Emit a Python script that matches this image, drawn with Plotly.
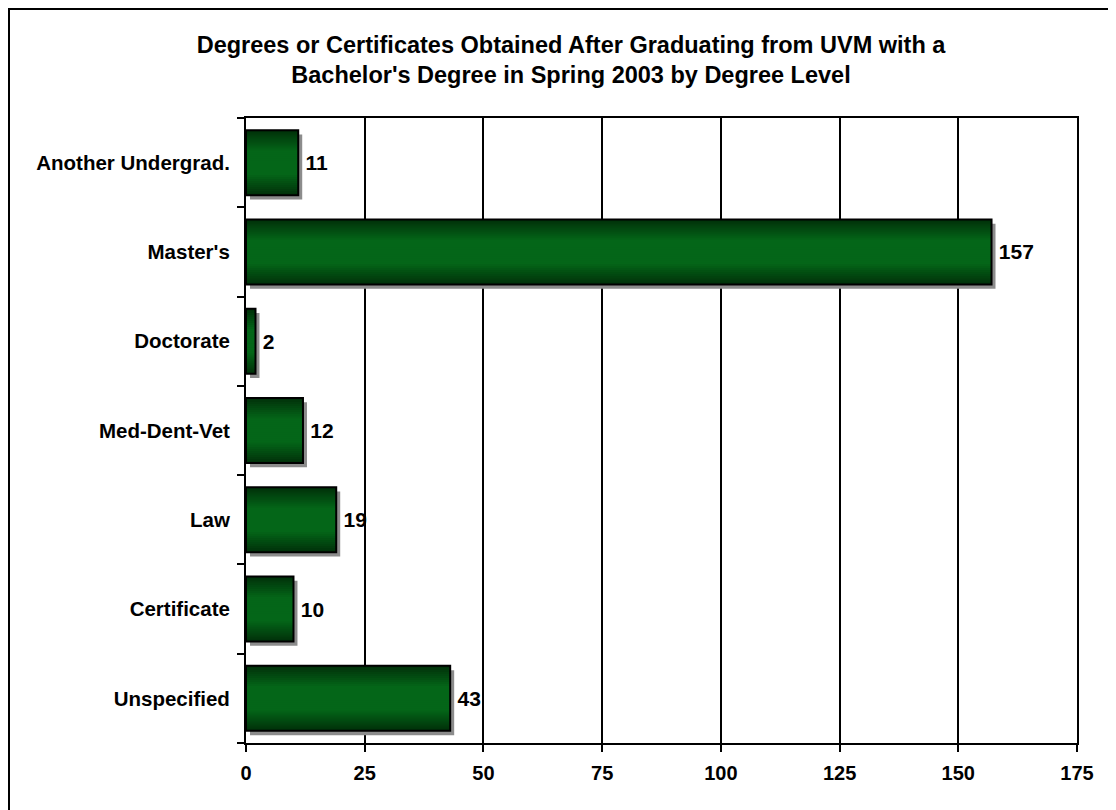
import plotly.graph_objects as go

categories = ["Another Undergrad.", "Master's", "Doctorate", "Med-Dent-Vet", "Law", "Certificate", "Unspecified"]
values = [11, 157, 2, 12, 19, 10, 43]
x_ticks = [0, 25, 50, 75, 100, 125, 150, 175]
title_text = "Degrees or Certificates Obtained After Graduating from UVM with a<br>Bachelor's Degree in Spring 2003 by Degree Level"

FONT = "Liberation Sans, Arial, sans-serif"
BAR_W = 0.728
edge = (1, 50, 10)
center = (4, 102, 24)

fig = go.Figure()

# shadow
fig.add_trace(go.Bar(
    y=categories, x=values, base=[0.84] * len(values), orientation="h",
    width=BAR_W, offset=-BAR_W / 2 - 0.048,
    marker=dict(color="#8c8c8c", line=dict(width=0)),
    hoverinfo="skip", showlegend=False))

# gradient layers
n_layers = 16
for i in range(n_layers):
    t = i / (n_layers - 1)
    w = BAR_W * (1 - t * 0.93)
    f = min(1.0, t * 1.5)
    col = tuple(int(round(edge[k] + (center[k] - edge[k]) * f)) for k in range(3))
    fig.add_trace(go.Bar(
        y=categories, x=values, orientation="h", width=w,
        marker=dict(color="rgb(%d,%d,%d)" % col, line=dict(width=0)),
        hoverinfo="skip", showlegend=False))

# outline
fig.add_trace(go.Bar(
    y=categories, x=values, orientation="h", width=BAR_W,
    marker=dict(color="rgba(0,0,0,0)", line=dict(color="black", width=2)),
    showlegend=False))

# labels
fig.add_trace(go.Bar(
    y=categories, x=values, base=[0.9] * len(values), orientation="h", width=BAR_W,
    marker=dict(color="rgba(0,0,0,0)", line=dict(width=0)),
    text=[str(v) for v in values], textposition="outside", cliponaxis=False,
    textfont=dict(family=FONT, size=21, color="black", weight="bold"),
    hoverinfo="skip", showlegend=False))

# plot area in figure px: left 238, right 1069, top 110, bottom 735
L, R, T, B = 238, 1069, 110, 735
pw, ph = R - L, B - T

fig.update_layout(
    width=1116, height=810,
    margin=dict(l=L, r=1116 - R, t=T, b=810 - B),
    paper_bgcolor="white", plot_bgcolor="white",
    barmode="overlay",
    title=dict(text=title_text, x=0.5045, xref="container", xanchor="center",
               y=0.945, yref="container", yanchor="middle",
               font=dict(family=FONT, size=23.5, color="black", weight="bold")),
    xaxis=dict(range=[0, 175], tickvals=x_ticks, showgrid=True, gridcolor="black", gridwidth=2,
               zeroline=False, showline=True, linecolor="black", linewidth=2, mirror=True,
               ticks="outside", ticklen=7, tickwidth=2, tickcolor="black",
               ticklabelstandoff=4,
               tickfont=dict(family=FONT, size=20, color="black", weight="bold")),
    yaxis=dict(categoryorder="array", categoryarray=categories[::-1],
               showgrid=False, showline=True, linecolor="black", linewidth=2, mirror=True,
               ticks="outside", tickson="boundaries", ticklen=7, tickwidth=2, tickcolor="black",
               ticklabelstandoff=10,
               tickfont=dict(family=FONT, size=20.5, color="black", weight="bold")),
    shapes=[dict(type="rect", xref="paper", yref="paper",
                 x0=(1 - L) / pw, x1=(1130 - L) / pw, y0=(B - 830) / ph, y1=(B - 1) / ph,
                 line=dict(color="black", width=2), fillcolor="rgba(0,0,0,0)", layer="below")],
)

fig.write_html("out.html")
